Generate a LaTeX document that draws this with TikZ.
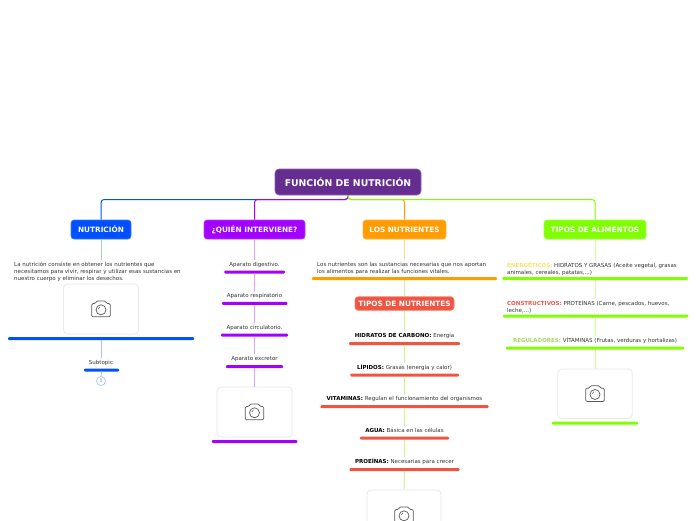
\documentclass[tikz,border=0pt]{standalone}
\usepackage{fontspec}
\setmainfont{DejaVu Sans}
\definecolor{cRoot}{HTML}{662D91}
\definecolor{cBlue}{HTML}{0050FF}
\definecolor{cPurple}{HTML}{A200FF}
\definecolor{cOrange}{HTML}{FF9D00}
\definecolor{cGreen}{HTML}{7FFF00}
\definecolor{cRed}{HTML}{EF5543}
\definecolor{cYellow}{HTML}{FFE066}
\definecolor{cReg}{HTML}{A5D95F}
\definecolor{cBody}{HTML}{333333}
\definecolor{lBlue}{HTML}{A9C4FF}
\definecolor{lPurple}{HTML}{E0A6FF}
\definecolor{lOrange}{HTML}{FFD699}
\definecolor{lGreen}{HTML}{CCFF99}
\definecolor{lLime}{HTML}{C8F58C}
\tikzset{
  x=1pt,y=-1pt,
  topic/.style={fill=#1,draw=#1!75!white,line width=.6pt,rounded corners=3pt,text=white,inner sep=0pt,
    font=\fontsize{7.3}{9}\selectfont\bfseries,minimum height=19pt},
  txt/.style={text=cBody,inner sep=2pt,text height=4pt,text depth=1pt,font=\fontsize{5.5}{6.8}\selectfont},
  txtl/.style={text=cBody,inner sep=2pt,align=left,anchor=north west,font=\fontsize{5.5}{6.8}\selectfont},
  bar/.style={fill=#1,draw=none,rounded corners=1pt,inner sep=0pt,minimum height=3pt},
  card/.style={draw=black!9,fill=white,line width=.8pt,rounded corners=4pt,inner sep=0pt,minimum width=75pt,minimum height=50pt},
  bus/.style={draw=#1,line width=1pt,rounded corners=3pt},
  sub/.style={draw=#1,line width=1pt},
  camera/.pic={
    \draw[black!65,line width=.7pt,rounded corners=1.2pt]
      (-9.2,-5.5) -- (-5.5,-5.5) -- (-4.5,-8) -- (4.5,-8) -- (5.5,-5.5) -- (9.2,-5.5) -- (9.2,7.8) -- (-9.2,7.8) -- cycle;
    \draw[black!65,line width=.7pt] (0,0.8) circle (5);
    \draw[black!65,line width=.5pt] (-2.7,0) -- (-1,-2.2);
  }
}
\begin{document}
\begin{tikzpicture}
\useasboundingbox (0,0) rectangle (696,520);
\clip (0,0) rectangle (696,520);
\fill[white] (0,0) rectangle (696,520);

% main nodes
\node[topic=cRoot,minimum width=146pt,minimum height=26pt,rounded corners=4pt,font=\fontsize{9.3}{11}\selectfont\bfseries] (root) at (348,182) {FUNCIÓN DE NUTRICIÓN};
\node[topic=cBlue,minimum width=60pt] (n1) at (101,229.5) {NUTRICIÓN};
\node[topic=cPurple,minimum width=101pt] (n2) at (254.5,229.5) {¿QUIÉN INTERVIENE?};
\node[topic=cOrange,minimum width=83pt] (n3) at (404.5,229.5) {LOS NUTRIENTES};
\node[topic=cGreen,minimum width=102pt] (n4) at (595,229.5) {TIPOS DE ALIMENTOS};
\coordinate (j) at (348,199.5);

\draw[bus=cBlue] (root.south) -- (j) -| (n1.north);
\draw[bus=cPurple] (root.south) -- (j) -| (n2.north);
\draw[bus=cOrange] (root.south) -- (j) -| (n3.north);
\draw[bus=cGreen] (root.south) -- (j) -| (n4.north);

% NUTRICION branch
\node[txtl] (a1) at (12,260) {La nutrición consiste en obtener los nutrientes que\\necesitamos para vivir, respirar y utilizar esas sustancias en\\nuestro cuerpo y eliminar los desechos.};
\node[card] (a2) at (101,309) {};
\pic at (a2.center) {camera};
\node[bar=cBlue,minimum width=186pt] (a3) at (101,338.5) {};
\node[txt] (a4) at (101,363) {Subtopic};
\node[bar=cBlue,minimum width=35pt] (a5) at (101.5,370) {};
\node[circle,draw=lBlue,fill=white,line width=.7pt,inner sep=0pt,minimum size=9pt,text=cBlue!70!white,font=\fontsize{4.5}{5}\selectfont] (a6) at (101,381) {1};
\draw[sub=lBlue] (n1.south) -- (n1.south |- a1.north);
\draw[sub=lBlue] (a3.south) -- (a3.south |- a4.north);
\draw[sub=lBlue] (a5.south) -- (a6.north);

% QUIEN branch
\node[txt] (b1) at (254.5,265) {Aparato digestivo.};
\node[bar=cPurple,minimum width=60.5pt] (b2) at (254.7,272) {};
\node[txt] (b3) at (254.5,296) {Aparato respiratorio};
\node[bar=cPurple,minimum width=65.5pt] (b4) at (254.7,303.3) {};
\node[txt] (b5) at (254.5,328) {Aparato circulatorio.};
\node[bar=cPurple,minimum width=67pt] (b6) at (254.5,335) {};
\node[txt] (b7) at (254.5,359) {Aparato excretor};
\node[bar=cPurple,minimum width=57pt] (b8) at (254.5,366.5) {};
\node[card] (b9) at (254.5,412) {};
\pic at (b9.center) {camera};
\node[bar=cPurple,minimum width=85.5pt] (b10) at (254.7,441.5) {};
\draw[sub=lPurple] (n2.south) -- (b1.north);
\draw[sub=lPurple] (b2.south) -- (b3.north);
\draw[sub=lPurple] (b4.south) -- (b5.north);
\draw[sub=lPurple] (b6.south) -- (b7.north);
\draw[sub=lPurple] (b8.south) -- (b9.north);

% LOS NUTRIENTES branch
\node[txtl] (c1) at (315,260) {Los nutrientes son las sustancias necesarias que nos aportan\\los alimentos para realizar las funciones vitales.};
\node[bar=cOrange,minimum width=185pt] (c2) at (404.5,278.5) {};
\node[topic=cRed,minimum width=99pt,minimum height=13.5pt] (c3) at (404.5,303.5) {TIPOS DE NUTRIENTES};
\node[txt] (c4) at (404.5,336) {\textcolor{black}{\textbf{HIDRATOS DE CARBONO:}} Energía};
\node[bar=cRed,minimum width=111pt] (c5) at (404.5,343.5) {};
\node[txt] (c6) at (404.5,368) {\textcolor{black}{\textbf{LÍPIDOS:}} Grasas (energía y calor)};
\node[bar=cRed,minimum width=108.5pt] (c7) at (404.7,375) {};
\node[txt] (c8) at (404.5,399) {\textcolor{black}{\textbf{VITAMINAS:}} Regulan el funcionamiento del organismos};
\node[bar=cRed,minimum width=168pt] (c9) at (404.5,406.5) {};
\node[txt] (c10) at (404.5,431) {\textcolor{black}{\textbf{AGUA:}} Básica en las células};
\node[bar=cRed,minimum width=89pt] (c11) at (404.5,438) {};
\node[txt] (c12) at (404.5,462) {\textcolor{black}{\textbf{PROEÍNAS:}} Necesarias para crecer};
\node[bar=cRed,minimum width=110pt] (c13) at (404.5,469.5) {};
\node[card,minimum width=74pt] (c14) at (404,515) {};
\pic at (c14.center) {camera};
\draw[sub=lOrange] (n3.south) -- (n3.south |- c1.north);
\draw[sub=lLime] (c2.south) -- (c3.north);
\draw[sub=lLime] (c3.south) -- (c4.north);
\draw[sub=lLime] (c5.south) -- (c6.north);
\draw[sub=lLime] (c7.south) -- (c8.north);
\draw[sub=lLime] (c9.south) -- (c10.north);
\draw[sub=lLime] (c11.south) -- (c12.north);
\draw[sub=lLime] (c13.south) -- (c14.north);

% TIPOS DE ALIMENTOS branch
\node[txtl] (d1) at (505,260) {\textcolor{cYellow}{\textbf{ENERGÉTICOS:}} HIDRATOS Y GRASAS (Aceite vegetal, grasas\\animales, cereales, patatas,...)};
\node[bar=cGreen,minimum width=185.5pt] (d2) at (595.2,278.5) {};
\node[txtl] (d3) at (505,298) {\textcolor{cRed}{\textbf{CONSTRUCTIVOS:}} PROTEÍNAS (Carne, pescados, huevos,\\leche,...)};
\node[bar=cGreen,minimum width=185pt] (d4) at (595.5,316) {};
\node[txt] (d5) at (595,341) {\textcolor{cReg}{\textbf{REGULADORES:}} VÍTAMINAS (Frutas, verduras y hortalizas)};
\node[bar=cGreen,minimum width=178pt] (d6) at (595,348) {};
\node[card,minimum width=74.5pt,minimum height=49.5pt] (d7) at (595,393.7) {};
\pic at (d7.center) {camera};
\node[bar=cGreen,minimum width=86pt] (d8) at (595,423) {};
\draw[sub=lGreen] (n4.south) -- (n4.south |- d1.north);
\draw[sub=lGreen] (d2.south) -- (d2.south |- d3.north);
\draw[sub=lGreen] (d4.south) -- (d5.north);
\draw[sub=lGreen] (d6.south) -- (d7.north);
\end{tikzpicture}
\end{document}
